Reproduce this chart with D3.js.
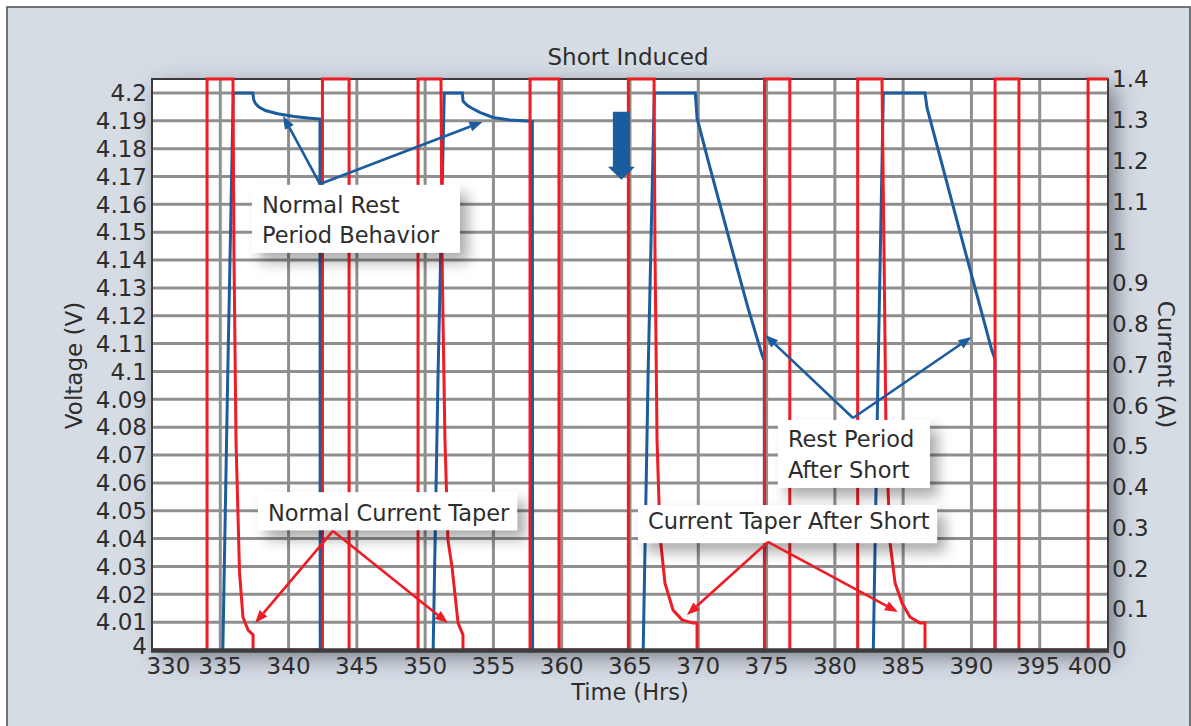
<!DOCTYPE html>
<html><head><meta charset="utf-8">
<script src="https://cdn.jsdelivr.net/npm/d3@7"></script>
<style>
body{margin:0;background:#fff}
svg{display:block}
text{font-family:"DejaVu Sans",sans-serif;fill:#2d2d2d}
</style>
</head><body>
<svg id="chart" width="1191" height="726"></svg>
<script>
// ---------- data ----------
const titleText = "Short Induced";
const xTitle = "Time (Hrs)";
const yLeftTitle = "Voltage (V)";
const yRightTitle = "Current (A)";

const timeTicks = d3.range(330, 401, 5);
const voltageTicks = d3.range(0, 21).map(i => +(4 + i * 0.01).toFixed(2));
const currentTicks = d3.range(0, 15).map(i => +(i * 0.1).toFixed(1));

// voltage (V) vs time (hrs); values below 4 V fall off the chart
const voltage = [
  [330,3.98],[335.15,3.99],[335.55,4.1],[335.95,4.2],[337.38,4.2],[337.45,4.1975],[337.55,4.1964],
  [337.8,4.195],[338.3,4.1937],[339.2,4.1925],[340.4,4.1915],[341.4,4.191],[342.3,4.1906],[342.32,3.98],
  [350.55,3.99],[350.95,4.1],[351.4,4.2],[352.72,4.2],[352.78,4.197],[353.1,4.1955],[353.43,4.1945],
  [354.0,4.193],[354.97,4.1912],[356.2,4.1903],[357.46,4.1899],[357.85,4.1898],[357.87,3.98],
  [365.93,3.99],[366.33,4.1],[366.78,4.2],[369.78,4.2],[369.91,4.191],[370.71,4.1759],[372.32,4.1465],
  [373.64,4.1228],[374.67,4.1059],[374.83,4.104],[374.85,3.98],
  [382.78,3.99],[383.16,4.099],[383.55,4.2],[386.6,4.2],[386.75,4.1946],[389.16,4.1501],[391.5,4.1075],
  [391.72,4.1045],[391.73,3.98],[400,3.98]
];

// current (A) vs time (hrs); 1.4 = off-scale high
const current = [
  [330,0],[334.03,0],[334.03,1.4],[335.93,1.4],[336.0,0.978],[336.15,0.515],[336.41,0.189],[336.66,0.081],
  [337.03,0.049],[337.4,0.037],[337.4,0],
  [342.48,0],[342.48,1.4],[344.43,1.4],[344.43,0],
  [349.48,0],[349.48,1.4],[351.16,1.4],[351.23,0.978],[351.45,0.515],[351.67,0.27],[351.97,0.203],
  [352.41,0.066],[352.77,0.037],[352.77,0],
  [357.68,0],[357.68,1.4],[359.8,1.4],[359.8,0],
  [364.88,0],[364.88,1.4],[366.76,1.4],[366.83,0.978],[366.98,0.515],[367.13,0.355],[367.23,0.27],
  [367.56,0.164],[368.15,0.098],[368.81,0.074],[369.61,0.066],[369.91,0.066],[369.91,0],
  [374.85,0],[374.85,1.4],[376.7,1.4],[376.7,0],
  [381.67,0],[381.67,1.4],[383.45,1.4],[383.6,0.978],[383.75,0.515],[383.9,0.39],[384.04,0.263],
  [384.41,0.164],[384.92,0.115],[385.5,0.081],[386.23,0.066],[386.6,0.066],[386.6,0],
  [391.73,0],[391.73,1.4],[393.48,1.4],[393.48,0],
  [398.54,0],[398.54,1.4],[400,1.4]
];

// annotations (data coordinates)
const voltageArrows = [
  {vertex:[342.3,4.1673], tips:[[339.6,4.1917],[354.2,4.1896]]},
  {vertex:[381.33,4.0833], tips:[[374.9,4.1131],[390.0,4.1124]]}
];
const currentArrows = [
  {vertex:[343.25,0.292], tips:[[337.55,0.066],[351.67,0.066]]},
  {vertex:[375.1,0.265], tips:[[369.17,0.086],[384.62,0.093]]}
];
const voltageBoxes = [
  {t0:337.32, t1:352.55, v0:4.1670, v1:4.1426, lines:["Normal Rest","Period Behavior"]},
  {t0:375.83, t1:386.96, v0:4.0826, v1:4.0582, lines:["Rest Period","After Short"]}
];
const currentBoxes = [
  {t0:337.76, t1:356.73, a0:0.387, a1:0.294, lines:["Normal Current Taper"]},
  {t0:365.59, t1:387.48, a0:0.3555, a1:0.2623, lines:["Current Taper After Short"]}
];
const shortArrow = {t:364.37, vTop:4.1932, vTip:4.1688};

// ---------- layout ----------
const W = 1191, H = 726;
const L = 152, R = 1108, T = 79, B = 650;
const blue = "#1b5c9e", red = "#ee1c24", grid = "#8f8f8f";

const x = d3.scaleLinear().domain([330, 400]).range([L, R]);
const yV = d3.scaleLinear().domain([4, 4.205]).range([B, T]);
const yA = d3.scaleLinear().domain([0, 1.4]).range([B, T]);

const svg = d3.select("#chart");
const defs = svg.append("defs");
const f1 = defs.append("filter").attr("id","plotShadow").attr("x","-10%").attr("y","-10%").attr("width","130%").attr("height","130%");
f1.append("feDropShadow").attr("dx",7).attr("dy",7).attr("stdDeviation",11).attr("flood-color","#3c4250").attr("flood-opacity",0.65);
const f2 = defs.append("filter").attr("id","boxShadow").attr("x","-20%").attr("y","-40%").attr("width","150%").attr("height","200%");
f2.append("feDropShadow").attr("dx",8).attr("dy",9).attr("stdDeviation",7).attr("flood-color","#000").attr("flood-opacity",0.33);
defs.append("clipPath").attr("id","plotClip").append("rect")
  .attr("x",L).attr("y",T-3).attr("width",R-L).attr("height",B-T+3);

// panel
svg.append("rect").attr("x",0).attr("y",0).attr("width",W).attr("height",H).attr("fill","#fff");
svg.append("rect").attr("x",7).attr("y",7).attr("width",W-8).attr("height",H).attr("fill","#d6dce4")
  .attr("stroke","#4a4a4a").attr("stroke-width",1.5);

// plot area
svg.append("rect").attr("x",L).attr("y",T).attr("width",R-L).attr("height",B-T)
  .attr("fill","#fff").attr("filter","url(#plotShadow)");

// gridlines
svg.append("g").selectAll("line").data(timeTicks.filter(t => t > 330 && t < 400)).join("line")
  .attr("x1", d => x(d)).attr("x2", d => x(d)).attr("y1", T).attr("y2", B)
  .attr("stroke", grid).attr("stroke-width", 3);
svg.append("g").selectAll("line").data(voltageTicks.filter(v => v > 4)).join("line")
  .attr("x1", L).attr("x2", R).attr("y1", d => yV(d)).attr("y2", d => yV(d))
  .attr("stroke", grid).attr("stroke-width", 3);

// frame
svg.append("rect").attr("x",L).attr("y",T).attr("width",R-L).attr("height",B-T)
  .attr("fill","none").attr("stroke","#3a3a3a").attr("stroke-width",2);

// series
const lineV = d3.line().x(d => x(d[0])).y(d => yV(d[1]));
const lineA = d3.line().x(d => x(d[0])).y(d => yA(d[1]));
svg.append("path").attr("d", lineV(voltage)).attr("fill","none").attr("stroke",blue)
  .attr("stroke-width",3).attr("clip-path","url(#plotClip)");
svg.append("path").attr("d", lineA(current)).attr("fill","none").attr("stroke",red)
  .attr("stroke-width",3);

// bottom / side axis lines over series
svg.append("line").attr("x1",L-1).attr("x2",R+1).attr("y1",B+0.5).attr("y2",B+0.5).attr("stroke","#3c3c3c").attr("stroke-width",4.5);
svg.append("line").attr("x1",L).attr("x2",L).attr("y1",T).attr("y2",B).attr("stroke","#3c3c3c").attr("stroke-width",2);
svg.append("line").attr("x1",R).attr("x2",R).attr("y1",T+2).attr("y2",B).attr("stroke","#3c3c3c").attr("stroke-width",2);

// tick labels
const fs = 23;
const fmtV = v => String(+v.toFixed(2));
const fmtA = v => String(+v.toFixed(1));
svg.append("g").selectAll("text").data(voltageTicks).join("text")
  .attr("x", L-5).attr("y", d => yV(d) - (d === 4 ? 4 : 0)).attr("dy","0.36em").attr("text-anchor","end")
  .attr("font-size", fs).text(fmtV);
svg.append("g").selectAll("text").data(currentTicks).join("text")
  .attr("x", R+4).attr("y", d => yA(d)).attr("dy","0.36em").attr("text-anchor","start")
  .attr("font-size", fs).text(fmtA);

// x tick labels with simple collision handling
const xg = svg.append("g");
const xl = xg.selectAll("text").data(timeTicks).join("text")
  .attr("y", B+24).attr("text-anchor","middle").attr("font-size", fs).text(d => d);
const widths = [];
xl.each(function(){ widths.push(this.getComputedTextLength()); });
const centers = timeTicks.map(t => x(t));
centers[0] = L - 5 + widths[0]/2;
centers[centers.length-1] = R + 4 - widths[widths.length-1]/2;
for (let i = centers.length-2; i >= 0; i--) {
  const maxRight = centers[i+1] - widths[i+1]/2 - 8;
  if (centers[i] + widths[i]/2 > maxRight) centers[i] = maxRight - widths[i]/2;
}
xl.attr("x", (d,i) => centers[i]);

// titles
svg.append("text").attr("x", (L+R)/2 - 2).attr("y", 65).attr("text-anchor","middle").attr("font-size", fs).text(titleText);
svg.append("text").attr("x", (L+R)/2).attr("y", 700).attr("text-anchor","middle").attr("font-size", fs-0.5).text(xTitle);
svg.append("text").attr("transform", `translate(82,${(T+B)/2+1}) rotate(-90)`).attr("text-anchor","middle").attr("font-size", fs).text(yLeftTitle);
svg.append("text").attr("transform", `translate(1158,${(T+B)/2}) rotate(90)`).attr("text-anchor","middle").attr("font-size", fs).text(yRightTitle);

// short-induced thick arrow
{
  const cx = x(shortArrow.t), y0 = yV(shortArrow.vTop), y1 = yV(shortArrow.vTip);
  const sw = 8.5, hw = 13.5, hl = 13;
  svg.append("path").attr("fill", blue)
    .attr("d", `M${cx-sw},${y0}L${cx+sw},${y0}L${cx+sw},${y1-hl}L${cx+hw},${y1-hl}L${cx},${y1}L${cx-hw},${y1-hl}L${cx-sw},${y1-hl}Z`);
}

// annotation boxes
function drawBox(px0, px1, py0, py1, lines, ys) {
  svg.append("rect").attr("x",px0).attr("y",py0).attr("width",px1-px0).attr("height",py1-py0)
    .attr("fill","#fff").attr("filter","url(#boxShadow)");
  lines.forEach((s,i) => svg.append("text").attr("x", px0+10).attr("y", py0 + ys[i])
    .attr("font-size", 22.5).text(s));
}
// arrows
function drawArrow(vx, vy, tx, ty, color) {
  const ang = Math.atan2(ty-vy, tx-vx), len = 13, hw = 5;
  const bx = tx - len*Math.cos(ang), by = ty - len*Math.sin(ang);
  svg.append("line").attr("x1",vx).attr("y1",vy).attr("x2",bx).attr("y2",by)
    .attr("stroke",color).attr("stroke-width",2.6);
  const px = -Math.sin(ang)*hw, py = Math.cos(ang)*hw;
  svg.append("path").attr("fill",color)
    .attr("d", `M${tx},${ty}L${bx+px},${by+py}L${bx-px},${by-py}Z`);
}

voltageBoxes.forEach((b,i) => drawBox(x(b.t0), x(b.t1), yV(b.v0), yV(b.v1), b.lines, i===0 ? [28,58] : [27,58]));
currentBoxes.forEach((b,i) => drawBox(x(b.t0), x(b.t1), yA(b.a0), yA(b.a1), b.lines, i===0 ? [29] : [24]));

voltageArrows.forEach(a => a.tips.forEach(t => drawArrow(x(a.vertex[0]), yV(a.vertex[1]), x(t[0]), yV(t[1]), blue)));
currentArrows.forEach(a => a.tips.forEach(t => drawArrow(x(a.vertex[0]), yA(a.vertex[1]), x(t[0]), yA(t[1]), red)));
</script>
</body></html>
